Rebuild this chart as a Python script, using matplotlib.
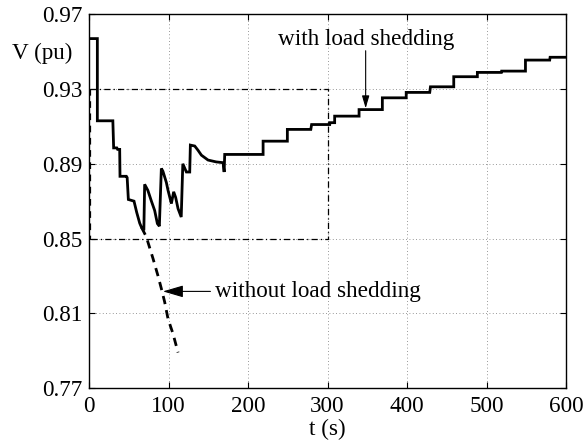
import matplotlib
matplotlib.use("Agg")
import matplotlib.pyplot as plt

# Bus voltage with load shedding (solid)
t_with = [0, 10.5, 10.5, 30, 31, 35, 36, 38.6, 39, 47, 48, 49.5, 56.6, 60, 63.8, 66, 69,
          70, 74, 78.5, 82.6, 86, 88.5, 91, 93, 97.3, 99.4, 103.6, 106.5, 109, 112, 116,
          118, 122.5, 126.7, 127.5, 133, 137, 141.4, 149.7, 160, 168.6, 170, 170.7,
          219, 219, 249.5, 249.5, 279, 280, 302.8, 303, 309, 309, 339.7, 339.7, 369, 369,
          399, 399, 428.6, 429.5, 458.8, 458.8, 488.5, 488.5, 518.7, 519, 549, 549,
          579.5, 580, 600]
v_with = [0.957, 0.957, 0.913, 0.913, 0.8985, 0.8985, 0.8977, 0.8977, 0.8833, 0.8833,
          0.8826, 0.8709, 0.870, 0.864, 0.8582, 0.856, 0.8544,
          0.879, 0.8758, 0.870, 0.865, 0.858, 0.8566, 0.8875, 0.886, 0.880, 0.8758,
          0.8687, 0.875, 0.872, 0.866, 0.8615,
          0.890, 0.8856, 0.8856, 0.900, 0.8995, 0.8973, 0.8946, 0.892, 0.891, 0.8906,
          0.8856, 0.895,
          0.895, 0.9021, 0.9021, 0.9084, 0.9084, 0.911, 0.911, 0.912, 0.912, 0.9155,
          0.9155, 0.919, 0.919, 0.9253, 0.9253, 0.9282, 0.9282, 0.9312, 0.9312, 0.9366,
          0.9366, 0.9389, 0.9389, 0.9396, 0.9396, 0.9455, 0.9455, 0.947, 0.947]

# Bus voltage without load shedding (dashed)
t_without = [66, 72, 80.5, 86.8, 91, 95.2, 99.4, 105.7, 112]
v_without = [0.856, 0.851, 0.8393, 0.830, 0.8232, 0.816, 0.807, 0.799, 0.789]

# Voltage band window
band_t = [1, 300]
band_v = [0.85, 0.93]

x_ticks = [0, 100, 200, 300, 400, 500, 600]
y_ticks = [0.77, 0.81, 0.85, 0.89, 0.93, 0.97]

plt.rcParams['font.family'] = ['Liberation Serif', 'DejaVu Serif']
plt.rcParams['mathtext.fontset'] = 'stix'

FS = 16.7

fig = plt.figure(figsize=(5.83, 4.41), dpi=100)
ax = fig.add_axes([89 / 583, (441 - 388) / 441, 477 / 583, (388 - 14.3) / 441])

ax.plot(t_with, v_with, color='black', lw=2.0, solid_joinstyle='miter', zorder=3)
ax.plot(t_without, v_without, color='black', lw=2.0, dashes=(3, 2.2), zorder=3)

dd = (0, (5, 2.5, 1, 2.5))
ax.plot([band_t[0], band_t[1], band_t[1], band_t[0]],
        [band_v[1], band_v[1], band_v[0], band_v[0]],
        color='black', lw=0.9, linestyle=dd, zorder=2)
ax.plot([band_t[0], band_t[0]], [band_v[1], band_v[0]],
        color='black', lw=1.6, dashes=(3, 2.5), zorder=2)

ax.set_xlim(0, 600)
ax.set_ylim(0.77, 0.97)
ax.set_xticks(x_ticks)
ax.set_yticks(y_ticks)
ax.set_xticklabels([str(v) for v in x_ticks])
ax.set_yticklabels([f"{v:.2f}" for v in y_ticks])
ax.tick_params(direction='in', length=4, width=0.8, labelsize=FS,
               top=True, right=True)
ax.tick_params(axis='x', pad=6)
ax.tick_params(axis='y', pad=5)
ax.grid(True, color='#777777', linestyle=(0, (1, 3)), lw=0.6)
for s in ax.spines.values():
    s.set_linewidth(1.0)

ax.set_xlabel('t (s)', fontsize=FS, labelpad=1)
fig.text(42 / 583, 1 - 53 / 441, 'V (pu)', fontsize=FS, ha='center', va='center')

arrow = dict(arrowstyle='-|>,head_length=0.75,head_width=0.22', color='black',
             lw=0.8, shrinkA=0, shrinkB=0)
ax.annotate('with load shedding', xy=(348, 0.9197), xytext=(349, 0.9565),
            fontsize=FS, ha='center', va='center')
ax.annotate('', xy=(348, 0.9197), xytext=(348, 0.9505), arrowprops=arrow)
ax.annotate('without load shedding', xy=(93, 0.8217), xytext=(158, 0.8217),
            fontsize=FS, ha='left', va='center',
            arrowprops=dict(arrow, shrinkA=1))

fig.savefig('out.png', dpi=100)
